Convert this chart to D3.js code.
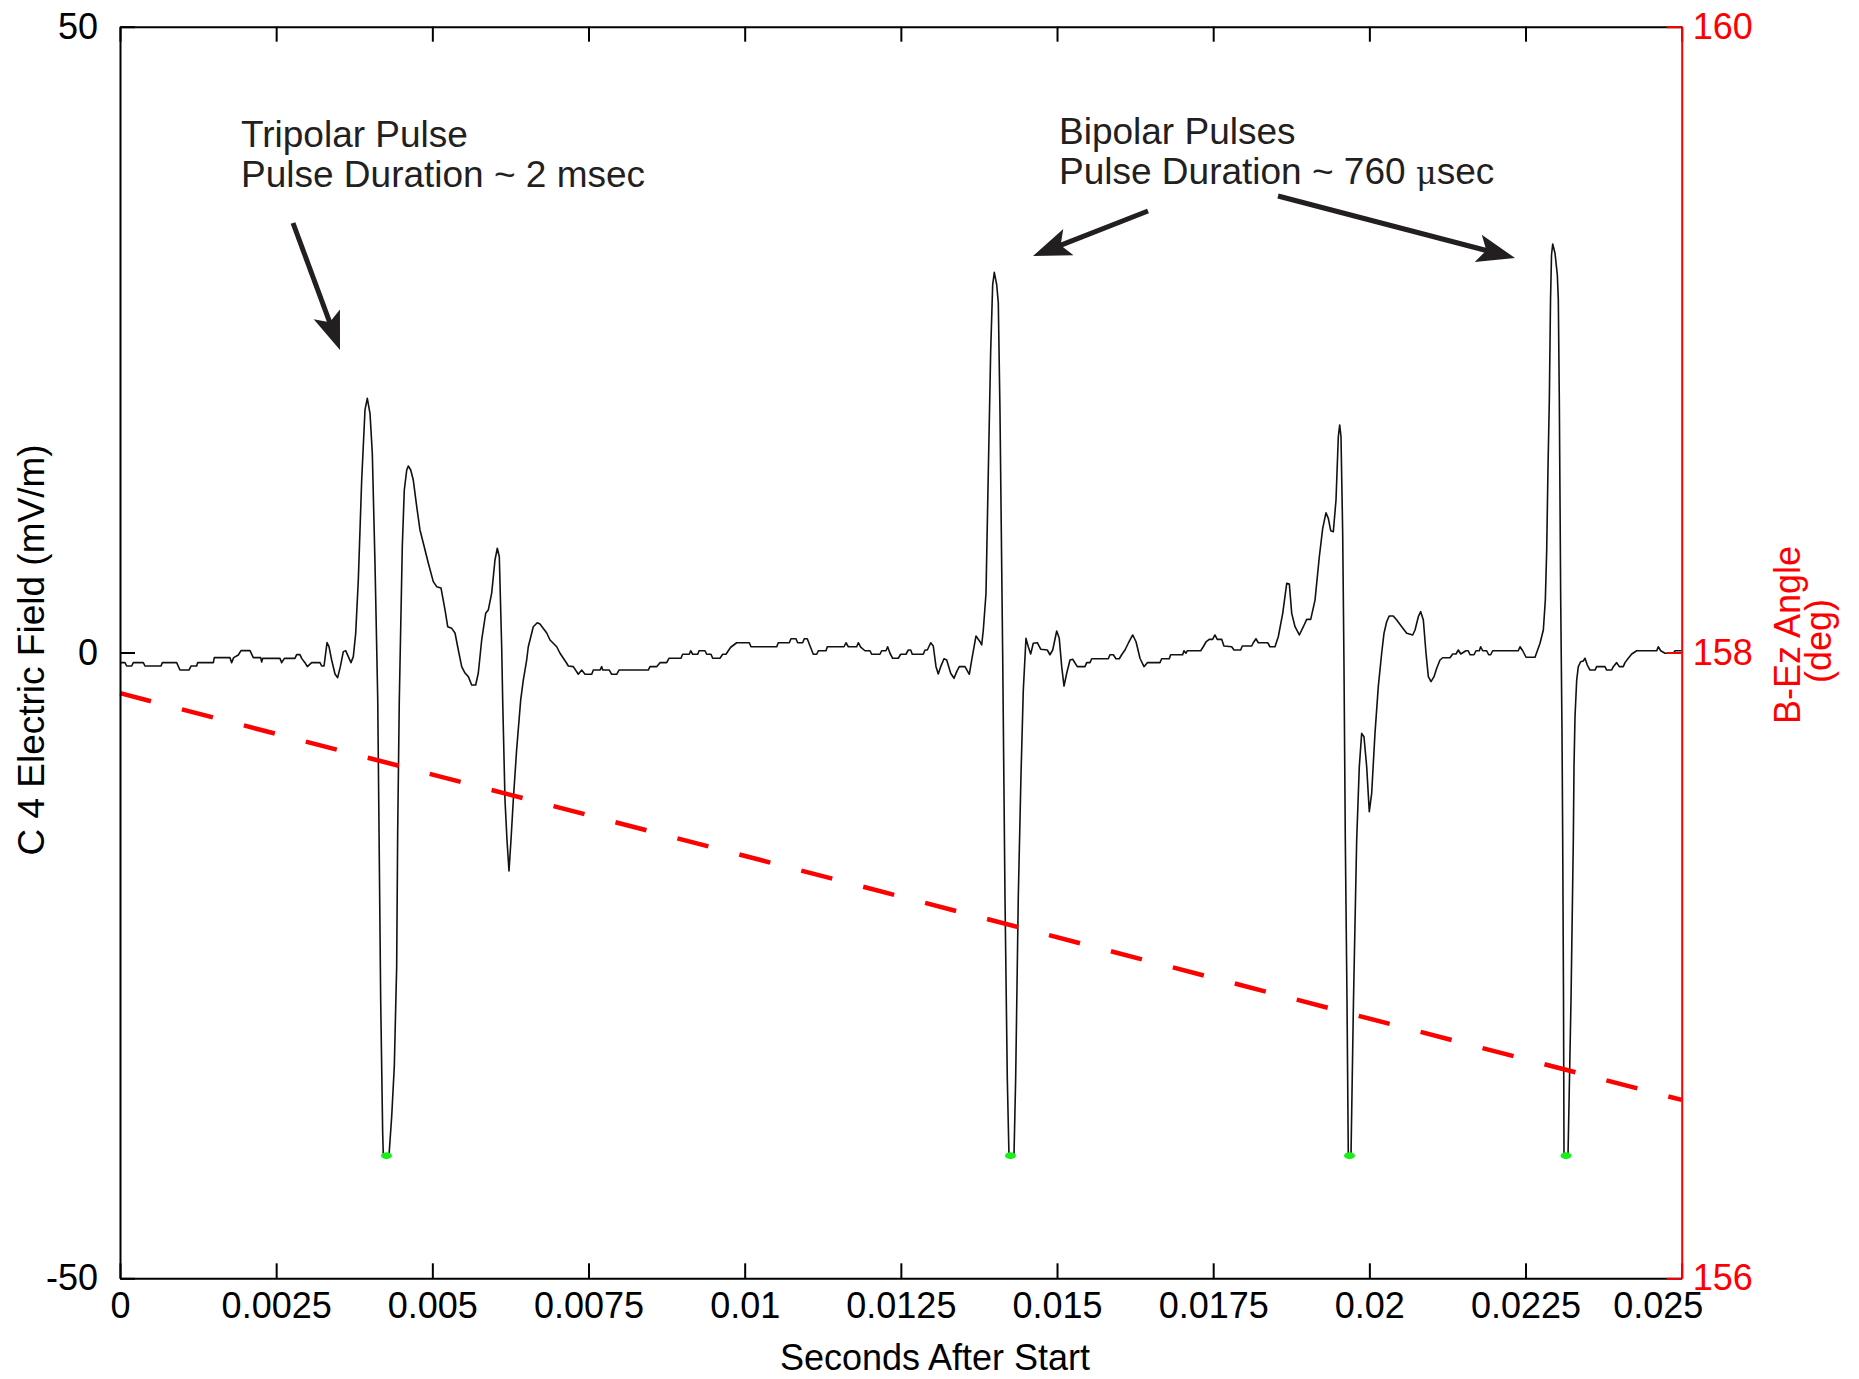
<!DOCTYPE html>
<html>
<head>
<meta charset="utf-8">
<script src="https://cdn.jsdelivr.net/npm/d3@7"></script>
<style>
  body { margin: 0; background: #fff; }
  svg { display: block; font-family: "Liberation Sans", Arial, sans-serif; }
  .axis text { font-size: 36px; fill: #000; }
  .axis path, .axis line { stroke: #000; stroke-width: 2; }
  .axis-right text { fill: #ff0000; }
  .axis-right path, .axis-right line { stroke: #ff0000; }
  .note { font-size: 37px; fill: #231f20; }
</style>
</head>
<body>
<svg id="chart" width="1859" height="1379"></svg>
<script>
// time in ms, electric field in mV/m
const baselineStart = [[0,-0.81],[0.080,-0.81],[0.107,-1.08],[0.187,-1.08],[0.213,-0.81],[0.373,-0.81],[0.400,-1.08],[0.656,-1.08],[0.678,-0.81],[0.907,-0.81],[0.960,-1.40],[1.104,-1.40],[1.137,-1.08],[1.227,-1.08],[1.243,-0.81],[1.494,-0.81],[1.510,-0.41],[1.761,-0.41],[1.787,-0.81],[1.820,-0.41],[1.894,-0.20],[1.937,0.15],[2.081,0.15],[2.134,-0.41],[2.252,-0.41],[2.268,-0.76],[2.284,-0.47],[2.561,-0.47],[2.588,-0.81],[2.631,-0.47],[2.801,-0.47],[2.828,-0.17],[2.881,-0.17],[2.908,-0.47],[2.961,-0.81],[2.999,-1.13],[3.068,-0.81],[3.202,-0.81],[3.228,-1.08],[3.266,-1.08]]
const tripolarPulse = [[3.314,0.79],[3.346,0.47],[3.388,-0.60],[3.442,-1.72],[3.484,-2.01],[3.527,-1.13],[3.575,0.07],[3.613,0.15],[3.655,-0.33],[3.698,-0.81],[3.735,-0.33],[3.773,1.53],[3.815,5.79],[3.869,13.78],[3.922,19.38],[3.959,20.31],[4.002,19.11],[4.039,15.91],[4.082,7.12],[4.109,0.47],[4.126,-3.79],[4.147,-14.42],[4.173,-27.76],[4.205,-38.39],[4.215,-40.2],[4.306,-40.2],[4.349,-37.09],[4.391,-33.09],[4.429,-25.10],[4.445,-14.42],[4.471,-3.80],[4.519,8.45],[4.551,12.98],[4.590,14.58],[4.615,14.90],[4.654,14.58],[4.695,13.78],[4.750,11.65],[4.802,9.79],[4.855,8.75],[4.935,7.15],[5.015,5.66],[5.070,5.26],[5.139,5.15],[5.203,3.40],[5.246,2.06],[5.310,1.93],[5.363,1.56],[5.416,0.20],[5.470,-1.13],[5.523,-1.64],[5.576,-1.93],[5.630,-2.60],[5.694,-2.60],[5.736,-1.64],[5.790,1.00],[5.854,3.13],[5.896,3.40],[5.950,4.75],[6.003,7.39],[6.040,8.33],[6.072,7.65],[6.110,0.46],[6.126,-3.80],[6.163,-11.79],[6.195,-14.98],[6.227,-17.46],[6.259,-14.98],[6.296,-11.79],[6.349,-7.79],[6.414,-3.80],[6.456,-2.20],[6.510,-0.60],[6.536,0.46],[6.616,2.06],[6.680,2.38],[6.723,2.28],[6.831,1.56],[6.884,1.00],[6.991,0.46],[7.044,-0.06],[7.151,-0.86],[7.177,-1.08],[7.257,-1.13]]
const quietStretch = [[7.337,-1.74],[7.391,-1.40],[7.444,-1.74],[7.551,-1.74],[7.577,-1.40],[7.684,-1.40],[7.711,-1.13],[7.727,-1.40],[7.833,-1.40],[7.871,-1.74],[7.951,-1.74],[7.988,-1.40],[8.457,-1.40],[8.484,-1.13],[8.591,-1.13],[8.644,-0.81],[8.751,-0.81],[8.788,-0.46],[8.980,-0.46],[9.007,-0.14],[9.113,-0.14],[9.136,0.14],[9.168,-0.14],[9.248,-0.14],[9.269,0.14],[9.365,0.14],[9.392,-0.14],[9.461,-0.14],[9.488,-0.46],[9.605,-0.46],[9.648,-0.14],[9.701,-0.14],[9.738,0.14],[9.776,0.42],[9.872,0.78],[10.074,0.78],[10.101,0.46],[10.513,0.46],[10.538,0.78],[10.714,0.78],[10.741,1.10],[10.821,1.10],[10.848,0.78],[10.928,0.78],[10.954,1.10],[11.002,1.10],[11.046,0.52],[11.099,-0.14],[11.153,-0.14],[11.179,0.14],[11.302,0.14],[11.323,0.46],[11.590,0.46],[11.622,0.78],[11.659,0.46],[11.793,0.46],[11.819,0.78],[11.857,0.42],[11.926,0.14],[12.006,0.14],[12.033,-0.14],[12.166,-0.14],[12.193,0.14],[12.262,0.14],[12.289,0.46],[12.326,-0.06],[12.369,-0.46],[12.459,-0.46],[12.497,-0.14],[12.582,-0.14],[12.619,0.20],[12.657,0.20],[12.683,-0.14],[12.859,-0.14],[12.887,0.20],[12.924,0.20],[12.978,0.78],[13.019,0.52],[13.063,-1.13],[13.099,-1.72],[13.138,-1.13],[13.191,-0.50],[13.234,-0.60],[13.298,-1.66],[13.351,-2.06],[13.394,-1.53],[13.436,-1.13],[13.527,-1.13],[13.596,-1.74],[13.634,-0.60],[13.703,1.32],[13.767,0.86],[13.794,0.60]]
const bipolarPulse1 = [[13.820,1.80],[13.863,4.71],[13.900,14.42],[13.938,24.09],[13.970,29.40],[13.996,30.37],[14.034,29.40],[14.060,27.95],[14.087,19.23],[14.130,-0.12],[14.167,-19.51],[14.204,-34.04],[14.231,-40.2],[14.311,-40.2],[14.338,-34.04],[14.380,-19.51],[14.423,-9.83],[14.460,-3.04],[14.503,1.13],[14.540,0.46],[14.578,-0.12],[14.620,0.74],[14.684,0.78],[14.739,0.26],[14.844,0.20],[14.887,-0.18],[14.931,0.20],[14.995,1.72],[15.036,1.13],[15.075,-1.13],[15.112,-2.68],[15.155,-1.66],[15.208,-0.60],[15.251,-0.54],[15.325,-1.13],[15.448,-1.13],[15.475,-0.81],[15.528,-0.81],[15.555,-0.50],[15.821,-0.50],[15.848,-0.18],[15.901,-0.18],[15.944,-0.50],[15.997,-0.50],[16.035,-0.18],[16.088,0.20],[16.141,0.74],[16.212,1.40],[16.265,0.86],[16.328,-0.46],[16.392,-1.13],[16.445,-0.81],[16.648,-0.81],[16.675,-0.50],[16.797,-0.50],[16.819,-0.18],[17.011,-0.18],[17.032,0.14],[17.064,-0.06],[17.085,0.14],[17.300,0.14],[17.341,0.46],[17.384,0.84],[17.437,1.05],[17.491,1.05],[17.528,1.40],[17.565,1.05],[17.636,1.05],[17.672,0.52],[17.796,0.46],[17.833,0.20],[17.940,0.20],[17.966,0.52],[18.116,0.52],[18.142,0.78],[18.185,1.10],[18.222,0.78],[18.373,0.78],[18.409,0.46],[18.489,0.46]]
const bipolarPulse2 = [[18.542,1.26],[18.613,3.13],[18.677,5.53],[18.719,5.47],[18.757,3.13],[18.810,2.06],[18.879,1.40],[18.943,2.06],[18.997,2.65],[19.061,2.65],[19.130,4.19],[19.199,7.65],[19.253,9.92],[19.306,11.17],[19.343,10.72],[19.381,9.73],[19.423,9.65],[19.466,12.18],[19.503,17.24],[19.525,18.18],[19.546,17.24],[19.573,9.52],[19.594,-1.13],[19.615,-14.98],[19.642,-27.76],[19.663,-40.2],[19.706,-40.2],[19.746,-27.76],[19.797,-14.98],[19.839,-9.12],[19.877,-6.46],[19.914,-6.73],[19.957,-9.12],[19.999,-12.72],[20.037,-11.25],[20.090,-6.46],[20.143,-2.73],[20.197,-0.06],[20.234,1.53],[20.277,2.46],[20.319,2.92],[20.383,2.92],[20.438,2.60],[20.518,2.06],[20.598,1.53],[20.694,1.40],[20.731,1.80],[20.784,2.86],[20.822,3.26],[20.864,2.60],[20.907,-0.06],[20.944,-1.93],[20.987,-2.33],[21.035,-1.93],[21.078,-1.26],[21.131,-0.60],[21.174,-0.42],[21.291,-0.42],[21.334,-0.12],[21.387,-0.12],[21.424,0.20],[21.463,-0.12],[21.546,0.14],[21.583,0.14],[21.611,-0.18],[21.675,-0.18],[21.707,0.14],[21.760,0.14],[21.782,0.46],[21.814,0.14],[21.878,0.14],[21.910,-0.18],[21.942,-0.18],[21.974,0.14],[22.384,0.14],[22.412,0.46],[22.455,0.14],[22.508,-0.38],[22.652,-0.38]]
const bipolarPulse3 = [[22.732,0.74],[22.785,1.80],[22.817,4.19],[22.839,8.19],[22.860,14.84],[22.881,20.17],[22.900,28.16],[22.916,31.76],[22.935,32.64],[22.972,31.90],[23.009,30.16],[23.025,28.16],[23.041,20.17],[23.063,4.19],[23.084,-6.43],[23.095,-14.98],[23.108,-27.76],[23.116,-40.2],[23.180,-40.2],[23.228,-27.76],[23.265,-14.98],[23.276,-9.12],[23.292,-5.13],[23.319,-2.20],[23.345,-1.13],[23.383,-0.74],[23.425,-0.68],[23.452,-0.46],[23.489,-1.00],[23.532,-1.40],[23.612,-1.40],[23.639,-1.13],[23.772,-1.13],[23.799,-1.40],[23.879,-1.40],[23.905,-1.13],[23.959,-0.81],[24.001,-1.13],[24.065,-1.13],[24.092,-0.81],[24.145,-0.46],[24.200,-0.12],[24.280,0.14],[24.600,0.14],[24.625,0.46],[24.664,0.14],[24.733,-0.06],[24.866,-0.06],[24.893,0.14],[25.000,0.14]]

// clipped minima (green markers), ms
const clipTimes = [4.266, 14.255, 19.682, 23.148]
const clipLevel = -40.2

// B-Ez angle (deg), ms
const angleTrend = [[0, 157.87], [25, 156.57]]

const xTickValues = [0, 0.0025, 0.005, 0.0075, 0.01, 0.0125, 0.015, 0.0175, 0.02, 0.0225, 0.025]
const xTickLabels = ['0', '0.0025', '0.005', '0.0075', '0.01', '0.0125', '0.015', '0.0175', '0.02', '0.0225', '0.025']
const fieldTicks = [-50, 0, 50]
const angleTicks = [156, 158, 160]

const plot = { left: 120, top: 26.7, right: 1681.7, bottom: 1278.3 }
const svg = d3.select('#chart')
svg.append('rect').attr('width', 1859).attr('height', 1379).attr('fill', '#fff')

const x = d3.scaleLinear().domain([0, 0.025]).range([plot.left, plot.right])
const y = d3.scaleLinear().domain([-50, 50]).range([plot.bottom, plot.top])
const yAngle = d3.scaleLinear().domain([156, 160]).range([plot.bottom, plot.top])

const trace = [].concat(baselineStart, tripolarPulse, quietStretch, bipolarPulse1, bipolarPulse2, bipolarPulse3)

const fieldLine = d3.line().x(d => x(d[0] / 1000)).y(d => y(d[1]))
const angleLine = d3.line().x(d => x(d[0] / 1000)).y(d => yAngle(d[1]))

svg.append('path')
  .attr('d', fieldLine(trace))
  .attr('fill', 'none')
  .attr('stroke', '#111')
  .attr('stroke-width', 1.6)
  .attr('stroke-linejoin', 'round')

svg.selectAll('.clip-mark').data(clipTimes).join('ellipse')
  .attr('class', 'clip-mark')
  .attr('cx', d => x(d / 1000))
  .attr('cy', y(clipLevel))
  .attr('rx', 5.5)
  .attr('ry', 3.5)
  .attr('fill', '#19f019')

svg.append('path')
  .attr('d', angleLine(angleTrend))
  .attr('fill', 'none')
  .attr('stroke', '#ff0000')
  .attr('stroke-width', 4.5)
  .attr('stroke-dasharray', '32,32')

// axes: ticks point inward on all four sides
svg.append('g').attr('class', 'axis')
  .attr('transform', `translate(0,${plot.top})`)
  .call(d3.axisTop(x).tickValues(xTickValues).tickFormat(() => '').tickSizeInner(-15).tickSizeOuter(0))

const gBottom = svg.append('g').attr('class', 'axis')
  .attr('transform', `translate(0,${plot.bottom})`)
  .call(d3.axisBottom(x).tickValues(xTickValues).tickFormat((d, i) => xTickLabels[i])
    .tickSizeInner(-15).tickSizeOuter(0).tickPadding(14))
// last label sits left of its tick so it clears the right-axis "156"
gBottom.selectAll('.tick text').filter((d, i) => i === xTickValues.length - 1).attr('x', -24)

svg.append('g').attr('class', 'axis')
  .attr('transform', `translate(${plot.left},0)`)
  .call(d3.axisLeft(y).tickValues(fieldTicks).tickFormat(d => String(d))
    .tickSizeInner(-15).tickSizeOuter(0).tickPadding(22))

svg.append('g').attr('class', 'axis axis-right')
  .attr('transform', `translate(${plot.right},0)`)
  .call(d3.axisRight(yAngle).tickValues(angleTicks).tickFormat(d => String(d))
    .tickSizeInner(-15).tickSizeOuter(0).tickPadding(11))

svg.selectAll('.axis').attr('font-family', null).attr('font-size', null)

// axis titles
svg.append('text')
  .attr('x', 935).attr('y', 1370)
  .attr('text-anchor', 'middle')
  .attr('font-size', 36)
  .text('Seconds After Start')

svg.append('text')
  .attr('transform', 'translate(44,650) rotate(-90)')
  .attr('text-anchor', 'middle')
  .attr('font-size', 37)
  .text('C 4 Electric Field (mV/m)')

svg.append('text')
  .attr('transform', 'translate(1800,635) rotate(-90)')
  .attr('text-anchor', 'middle')
  .attr('font-size', 36)
  .attr('fill', '#ff0000')
  .text('B-Ez Angle')

svg.append('text')
  .attr('transform', 'translate(1831,641) rotate(-90)')
  .attr('text-anchor', 'middle')
  .attr('font-size', 36)
  .attr('fill', '#ff0000')
  .text('(deg)')

// annotations
const tri = svg.append('text').attr('class', 'note').attr('x', 241).attr('y', 147)
tri.append('tspan').text('Tripolar Pulse')
tri.append('tspan').attr('x', 241).attr('dy', 40).text('Pulse Duration ~ 2 msec')

const bi = svg.append('text').attr('class', 'note').attr('x', 1059).attr('y', 144)
bi.append('tspan').text('Bipolar Pulses')
const biLine2 = bi.append('tspan').attr('x', 1059).attr('dy', 40)
biLine2.append('tspan').text('Pulse Duration ~ 760 ')
biLine2.append('tspan').attr('font-family', '"DejaVu Serif", "Liberation Serif", serif').attr('font-size', 32).text('\u03bc')
biLine2.append('tspan').text('sec')

function arrow (tail, tip) {
  const dx = tip[0] - tail[0]
  const dy = tip[1] - tail[1]
  const len = Math.hypot(dx, dy)
  const ux = dx / len
  const uy = dy / len
  const headLen = 38
  const half = 14
  const bx = tip[0] - ux * headLen
  const by = tip[1] - uy * headLen
  svg.append('line')
    .attr('x1', tail[0]).attr('y1', tail[1])
    .attr('x2', tip[0] - ux * headLen * 0.7).attr('y2', tip[1] - uy * headLen * 0.7)
    .attr('stroke', '#231f20').attr('stroke-width', 5)
  const head = [
    [tip[0], tip[1]],
    [bx - uy * half, by + ux * half],
    [tip[0] - ux * headLen * 0.78, tip[1] - uy * headLen * 0.78],
    [bx + uy * half, by - ux * half]
  ]
  svg.append('path').attr('d', 'M' + head.join('L') + 'Z').attr('fill', '#231f20')
}
arrow([293, 223], [340, 350])
arrow([1148, 211], [1033, 256])
arrow([1278, 196], [1515, 258])
</script>
</body>
</html>
